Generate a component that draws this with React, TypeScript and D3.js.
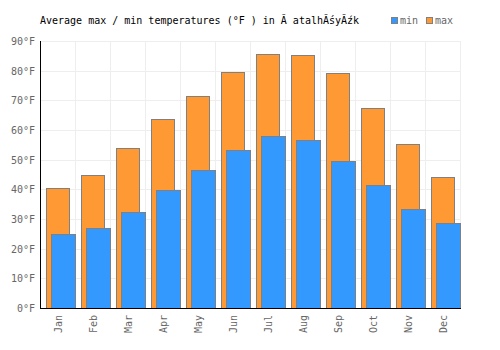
import { useEffect, useRef } from 'react';
import * as d3 from 'd3';

// monthly averages
const months = ['Jan', 'Feb', 'Mar', 'Apr', 'May', 'Jun', 'Jul', 'Aug', 'Sep', 'Oct', 'Nov', 'Dec'];
const maxTemps = [40.3, 44.7, 53.8, 63.7, 71.6, 79.4, 85.5, 85.2, 79.1, 67.3, 55.2, 44.2];
const minTemps = [24.8, 26.9, 32.3, 39.7, 46.4, 53.2, 57.9, 56.5, 49.4, 41.4, 33.3, 28.5];
const yTicks = [0, 10, 20, 30, 40, 50, 60, 70, 80, 90];

const W = 500;
const H = 350;
const FONT = '"DejaVu Sans Mono", monospace';
const BLUE = '#3399ff';
const ORANGE = '#ff9933';

const App = () => {
  const svgRef = useRef<SVGSVGElement>(null);

  useEffect(() => {
    const svg = d3.select(svgRef.current);
    svg.selectAll('*').remove();

    const left = 40, right = 460, top = 41, bottom = 308;
    const x = d3.scaleBand().domain(months).range([left, right]).padding(0);
    const y = d3.scaleLinear().domain([0, 90]).range([bottom, top]);
    const bw = x.bandwidth();

    // grid
    const grid = svg.append('g').attr('shape-rendering', 'crispEdges');
    grid.selectAll('line.h')
      .data(yTicks)
      .enter()
      .append('line')
      .attr('x1', left)
      .attr('x2', right)
      .attr('y1', d => Math.round(y(d)) + 0.5)
      .attr('y2', d => Math.round(y(d)) + 0.5)
      .attr('stroke', '#eeeeee');
    grid.selectAll('line.v')
      .data(months.map(m => x(m)! + bw).concat([left]))
      .enter()
      .append('line')
      .attr('x1', d => Math.round(d) + 0.5)
      .attr('x2', d => Math.round(d) + 0.5)
      .attr('y1', top)
      .attr('y2', bottom)
      .attr('stroke', '#eeeeee');

    // max bars (behind)
    svg.append('g')
      .selectAll('rect')
      .data(maxTemps)
      .enter()
      .append('rect')
      .attr('x', (d, i) => Math.round(x(months[i])! + bw * 0.17) + 0.5)
      .attr('width', Math.round(bw * 0.66))
      .attr('y', d => Math.round(y(d)) + 0.5)
      .attr('height', d => bottom - Math.round(y(d)))
      .attr('fill', ORANGE)
      .attr('stroke', '#808080')
      .attr('stroke-width', 1)
      .attr('shape-rendering', 'crispEdges');

    // min bars (front)
    svg.append('g')
      .selectAll('rect')
      .data(minTemps)
      .enter()
      .append('rect')
      .attr('x', (d, i) => Math.round(x(months[i])! + bw * 0.31) + 0.5)
      .attr('width', Math.round(bw * 0.69))
      .attr('y', d => Math.round(y(d)) + 0.5)
      .attr('height', d => bottom - Math.round(y(d)))
      .attr('fill', BLUE)
      .attr('stroke', '#808080')
      .attr('stroke-width', 1)
      .attr('shape-rendering', 'crispEdges');

    // axes lines
    svg.append('line')
      .attr('x1', left + 0.5).attr('x2', left + 0.5)
      .attr('y1', top).attr('y2', bottom + 1)
      .attr('stroke', '#000')
      .attr('shape-rendering', 'crispEdges');
    svg.append('line')
      .attr('x1', left).attr('x2', right + 1)
      .attr('y1', bottom + 0.5).attr('y2', bottom + 0.5)
      .attr('stroke', '#000')
      .attr('shape-rendering', 'crispEdges');

    // y tick labels
    svg.append('g')
      .selectAll('text')
      .data(yTicks)
      .enter()
      .append('text')
      .attr('x', 35)
      .attr('y', d => y(d) + 4)
      .attr('text-anchor', 'end')
      .attr('font-family', FONT)
      .attr('font-size', 10)
      .attr('fill', '#666')
      .text(d => `${d}°F`);

    // x tick labels (rotated)
    svg.append('g')
      .selectAll('text')
      .data(months)
      .enter()
      .append('text')
      .attr('transform', d => `translate(${x(d)! + bw / 2 + 4},315) rotate(-90)`)
      .attr('text-anchor', 'end')
      .attr('font-family', FONT)
      .attr('font-size', 10)
      .attr('fill', '#666')
      .text(d => d);

    // title
    svg.append('text')
      .attr('x', 40)
      .attr('y', 24)
      .attr('font-family', FONT)
      .attr('font-size', 10)
      .attr('fill', '#000')
      .text('Average max / min temperatures (°F ) in Ă atalhĂśyĂźk');

    // legend
    const legend = [
      { label: 'min', color: BLUE, x: 391 },
      { label: 'max', color: ORANGE, x: 426 },
    ];
    const lg = svg.append('g');
    legend.forEach(l => {
      lg.append('rect')
        .attr('x', l.x + 0.5)
        .attr('y', 17.5)
        .attr('width', 6)
        .attr('height', 6)
        .attr('fill', l.color)
        .attr('stroke', '#808080')
        .attr('shape-rendering', 'crispEdges');
      lg.append('text')
        .attr('x', l.x + 9)
        .attr('y', 24)
        .attr('font-family', FONT)
        .attr('font-size', 10)
        .attr('fill', '#666')
        .text(l.label);
    });
  }, []);

  return (
    <svg
      ref={svgRef}
      width={W}
      height={H}
      style={{ position: 'absolute', left: 0, top: 0, background: '#fff' }}
    />
  );
};

export default App;
